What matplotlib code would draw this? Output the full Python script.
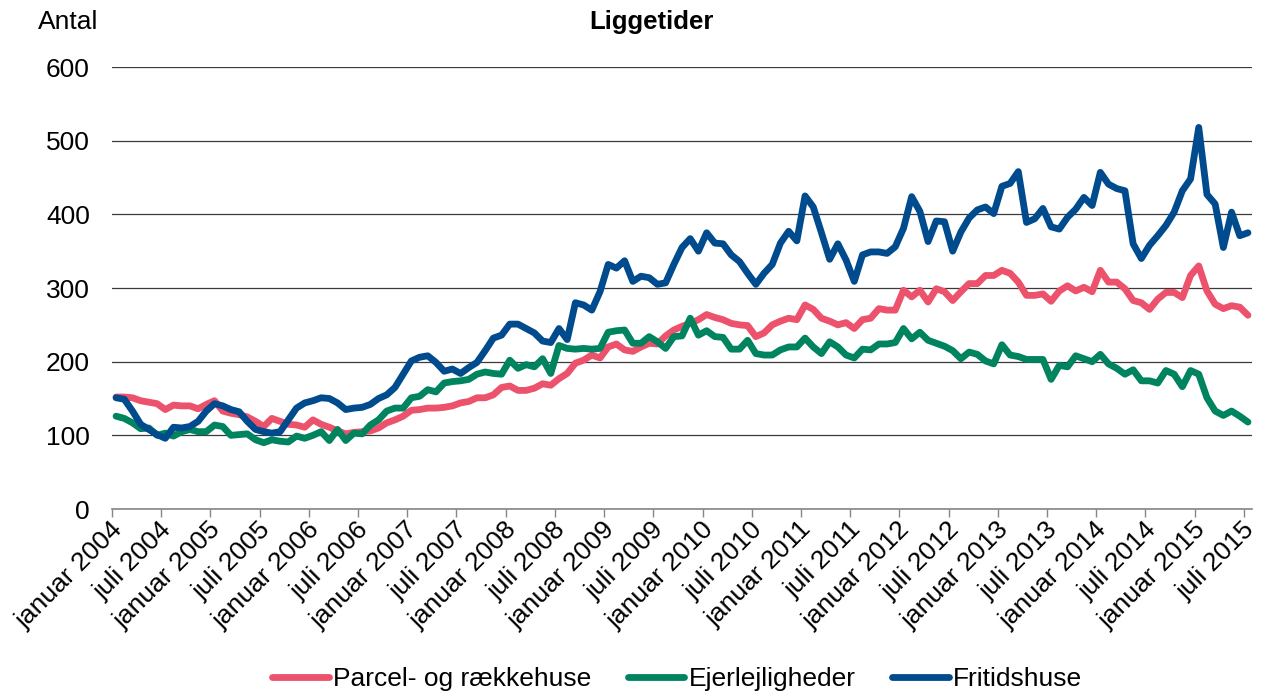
import numpy as np
import pandas as pd
import matplotlib
matplotlib.use("Agg")
import matplotlib.pyplot as plt
import matplotlib.transforms as mtransforms

plt.rcParams['font.family'] = ['Liberation Sans', 'DejaVu Sans']

# monthly data, januar 2004 - juli 2015
months = pd.date_range('2004-01-01', '2015-07-01', freq='MS')

parcel = [
    152, 152, 151, 147, 145, 143, 135, 141, 140, 140, 136, 142,  # 2004
    147, 133, 130, 128, 125, 119, 112, 123, 119, 115, 114, 111,  # 2005
    121, 115, 111, 106, 102, 104, 105, 106, 110, 117, 121, 126,  # 2006
    134, 135, 137, 137, 138, 140, 144, 146, 151, 151, 155, 165,  # 2007
    167, 161, 161, 164, 170, 168, 177, 184, 198, 202, 209, 205,  # 2008
    220, 224, 216, 214, 220, 225, 224, 235, 243, 248, 252, 257,  # 2009
    264, 260, 257, 252, 250, 249, 234, 239, 250, 255, 259, 257,  # 2010
    277, 271, 259, 255, 250, 253, 245, 257, 259, 272, 270, 270,  # 2011
    297, 288, 297, 281, 299, 295, 283, 295, 306, 306, 317, 317,  # 2012
    324, 320, 308, 290, 290, 292, 282, 296, 303, 296, 301, 295,  # 2013
    324, 308, 308, 299, 283, 280, 271, 285, 294, 294, 287, 317,  # 2014
    330, 296, 278, 272, 276, 274, 263]                           # 2015

ejerlejl = [
    126, 123, 117, 109, 110, 100, 103, 99, 105, 108, 105, 105,
    114, 112, 100, 101, 102, 94, 90, 94, 92, 91, 99, 96,
    100, 105, 93, 108, 93, 103, 102, 114, 121, 133, 137, 137,
    151, 153, 162, 159, 171, 173, 174, 176, 183, 186, 184, 183,
    202, 191, 196, 193, 204, 184, 222, 218, 217, 218, 217, 218,
    240, 242, 243, 225, 225, 234, 227, 218, 234, 235, 259, 236,
    242, 234, 233, 217, 217, 229, 211, 209, 209, 216, 220, 220,
    232, 220, 211, 227, 220, 209, 205, 217, 216, 224, 224, 226,
    245, 231, 240, 229, 225, 221, 215, 204, 213, 210, 201, 197,
    223, 209, 207, 203, 203, 203, 176, 195, 193, 208, 204, 200,
    210, 197, 191, 183, 189, 174, 174, 171, 188, 183, 166, 188,
    183, 151, 133, 127, 133, 126, 118]

fritid = [
    151, 149, 133, 115, 108, 101, 96, 111, 110, 112, 119, 133,
    143, 140, 135, 132, 119, 108, 105, 103, 105, 121, 137, 144,
    147, 151, 150, 144, 135, 137, 138, 142, 150, 155, 165, 183,
    201, 206, 208, 199, 187, 190, 184, 192, 199, 215, 232, 236,
    251, 251, 245, 239, 228, 226, 245, 230, 280, 277, 270, 295,
    332, 327, 337, 309, 316, 314, 305, 307, 332, 355, 367, 350,
    375, 361, 360, 345, 336, 320, 305, 320, 332, 361, 377, 364,
    425, 410, 375, 339, 360, 338, 309, 345, 349, 349, 347, 356,
    381, 424, 404, 363, 391, 390, 350, 376, 395, 406, 410, 401,
    438, 442, 458, 389, 394, 408, 383, 380, 396, 407, 423, 412,
    457, 441, 435, 432, 360, 340, 358, 371, 385, 403, 432, 448,
    518, 427, 414, 355, 403, 371, 375]

series = ['Parcel- og rækkehuse', 'Ejerlejligheder', 'Fritidshuse']
colors = ['#EC526C', '#00845F', '#004B8D']

month_names = {1: 'januar', 7: 'juli'}
x = np.arange(len(months))

fig = plt.figure(figsize=(12.71, 6.93), dpi=100)
ax = fig.add_axes([0.0881, 0.2655, 0.8970, 0.6378])

for vals, name, col in zip([parcel, ejerlejl, fritid], series, colors):
    ax.plot(x, vals, color=col, lw=4.9, label=name, solid_capstyle='round',
            solid_joinstyle='round')

ax.set_ylim(0, 600)
ax.set_xlim(-0.5, len(months) - 0.5)
ax.set_yticks(range(0, 601, 100))
ax.yaxis.grid(True, color='#3a3a3a', lw=0.9)
ax.set_axisbelow(True)
ax.tick_params(axis='y', length=0, pad=16, labelsize=19)

# category axis with ticks between months, every 6 months
tick_pos = np.arange(0, len(months), 6) - 0.5
tick_lab = ['%s %d' % (month_names[months[i].month], months[i].year)
            for i in range(0, len(months), 6)]
ax.set_xticks(tick_pos)
ax.set_xticklabels(tick_lab, rotation=45, ha='right', va='center',
                   rotation_mode='anchor', fontsize=19)
ax.tick_params(axis='x', length=6, width=1, color='#868686', pad=6)
offset = mtransforms.ScaledTranslation(7 / 100, 0, fig.dpi_scale_trans)
for lab in ax.get_xticklabels():
    lab.set_transform(lab.get_transform() + offset)

for s in ['top', 'right', 'left']:
    ax.spines[s].set_visible(False)
ax.spines['bottom'].set_color('#868686')
ax.spines['bottom'].set_linewidth(1.2)

fig.text(651 / 1271, 1 - 22 / 693, 'Liggetider', ha='center', va='center',
         fontsize=18.5, fontweight='bold')
fig.text(38 / 1271, 1 - 22 / 693, 'Antal', ha='left', va='center', fontsize=19)

fig.legend(loc='center', bbox_to_anchor=(677 / 1271, 1 - 679 / 693), ncol=3,
           frameon=False, fontsize=19, handlelength=2.15, handletextpad=0.15,
           columnspacing=1.4, borderaxespad=0)

fig.savefig('out.png', dpi=100)
